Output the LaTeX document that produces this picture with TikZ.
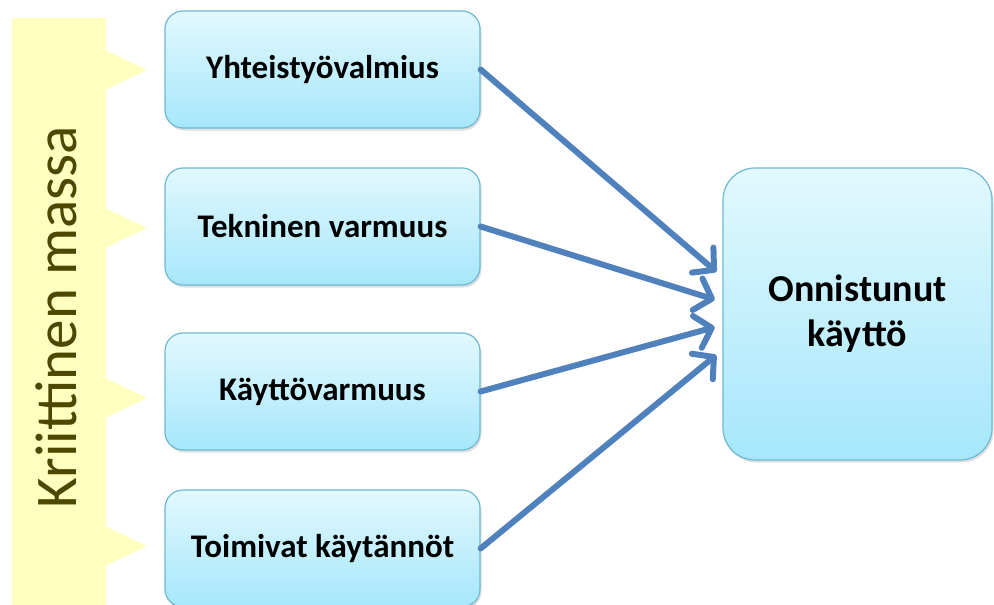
\documentclass[tikz,border=0pt]{standalone}
\usepackage{fontspec}
\setmainfont{Carlito}
\usepackage{tikz}
\usetikzlibrary{arrows.meta,shadows}
\definecolor{MyYellow}{HTML}{FFFFC0}
\definecolor{MyOlive}{HTML}{4D4800}
\definecolor{MyBlue}{HTML}{4F81BD}
\definecolor{BoxTop}{HTML}{E2F8FE}
\definecolor{BoxBottom}{HTML}{A6E7FB}
\definecolor{BoxLine}{HTML}{6DB9D2}
\tikzset{
    itembox/.style={draw=BoxLine, line width=1.2pt, rounded corners=18pt,
        top color=BoxTop, bottom color=BoxBottom,
        minimum width=315pt, minimum height=117pt,
        font=\fontsize{33}{40}\selectfont\bfseries,
        drop shadow={opacity=0.25, shadow xshift=1.5pt, shadow yshift=-2.5pt}},
    resultbox/.style={itembox, rounded corners=32pt,
        minimum width=269pt, minimum height=292pt, align=center,
        font=\fontsize{38}{45}\selectfont\bfseries},
    flowarrow/.style={MyBlue, line width=6pt, line cap=round,
        -{Straight Barb[round,length=15pt,width=33pt]}, shorten >=8pt}
}

\begin{document}
\begin{tikzpicture}[x=1pt,y=-1pt]
    \useasboundingbox (0,0) rectangle (994,605);
    \clip (0,0) rectangle (994,605);

%   yellow bar with pointers
    \fill[MyYellow] (12,18) rectangle (106,610);
    \foreach \y in {70,228,398,546} {
        \fill[MyYellow] (105,\y-20) -- (147,\y) -- (105,\y+20) -- cycle;
    }
    \node[MyOlive, rotate=90, font=\fontsize{59}{60}\selectfont] (mass) at (56,317) {Kriittinen massa};

%   boxes
    \node[itembox] (coop) at (322.5,69.5) {Yhteistyövalmius};
    \node[itembox] (tech) at (322.5,226.5) {Tekninen varmuus};
    \node[itembox] (oper) at (322.5,391.5) {Käyttövarmuus};
    \node[itembox] (prac) at (322.5,548.5) {Toimivat käytännöt};
    \node[resultbox] (res) at (857.5,314) {Onnistunut\\käyttö};

%   arrows
    \draw[flowarrow] (coop.east) -- ([yshift=37pt]res.west);
    \draw[flowarrow] (tech.east) -- ([yshift=12pt]res.west);
    \draw[flowarrow] (oper.east) -- ([yshift=-11pt]res.west);
    \draw[flowarrow] (prac.east) -- ([yshift=-36pt]res.west);
\end{tikzpicture}
\end{document}
